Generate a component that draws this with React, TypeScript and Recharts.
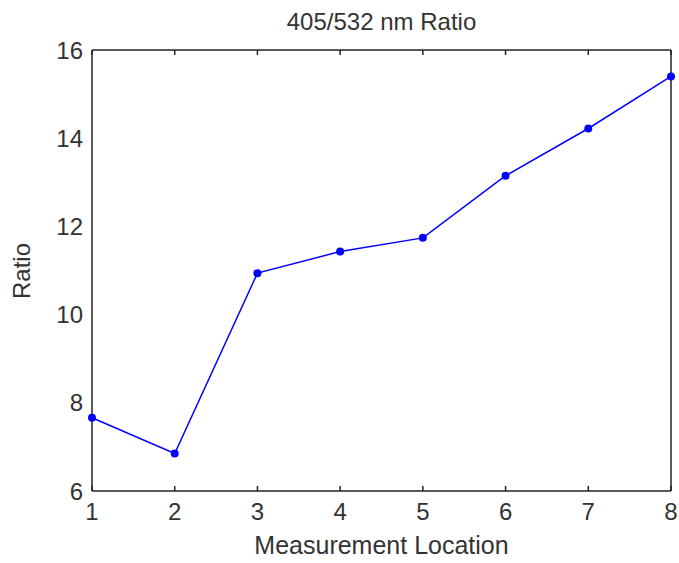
import { Line, LineChart, XAxis, YAxis } from "recharts";

const locations = [1, 2, 3, 4, 5, 6, 7, 8];
const ratios = [7.66, 6.85, 10.94, 11.43, 11.74, 13.15, 14.22, 15.4];
const xTicks = [1, 2, 3, 4, 5, 6, 7, 8];
const yTicks = [6, 8, 10, 12, 14, 16];

const data = locations.map((loc, i) => ({ loc, ratio: ratios[i] }));

const font = "'Liberation Sans', Arial, sans-serif";
const axisColor = "#222";
const textColor = "#333";
const tickStyle = { fontSize: 24, fill: textColor, fontFamily: font };
const blank = () => "";

export default function App() {
  return (
    <div style={{ position: "absolute", left: 0, top: 0, width: 679, height: 563, background: "#fff" }}>
      <LineChart
        width={679}
        height={563}
        data={data}
        margin={{ top: 50, right: 8, bottom: 0, left: 0 }}
      >
        {/* labelled axes (outer) */}
        <XAxis
          xAxisId="bottom"
          dataKey="loc"
          type="number"
          domain={[1, 8]}
          ticks={xTicks}
          height={72}
          tickLine={false}
          tickSize={0}
          tickMargin={12}
          stroke={axisColor}
          strokeWidth={1.5}
          tick={tickStyle}
        />
        <YAxis
          yAxisId="left"
          type="number"
          domain={[6, 16]}
          ticks={yTicks}
          width={92}
          tickLine={false}
          tickSize={0}
          tickMargin={9}
          stroke={axisColor}
          strokeWidth={1.5}
          tick={tickStyle}
        />
        {/* mirrored axes: box outline and inward ticks */}
        <XAxis
          xAxisId="bottomTicks"
          mirror
          dataKey="loc"
          type="number"
          domain={[1, 8]}
          ticks={xTicks}
          height={6}
          tickSize={5}
          tickFormatter={blank}
          axisLine={false}
          stroke={axisColor}
          strokeWidth={1.5}
        />
        <XAxis
          xAxisId="top"
          orientation="top"
          mirror
          dataKey="loc"
          type="number"
          domain={[1, 8]}
          ticks={xTicks}
          height={6}
          tickSize={5}
          tickFormatter={blank}
          stroke={axisColor}
          strokeWidth={1.5}
        />
        <YAxis
          yAxisId="leftTicks"
          mirror
          type="number"
          domain={[6, 16]}
          ticks={yTicks}
          width={6}
          tickSize={5}
          tickFormatter={blank}
          axisLine={false}
          stroke={axisColor}
          strokeWidth={1.5}
        />
        <YAxis
          yAxisId="right"
          orientation="right"
          mirror
          type="number"
          domain={[6, 16]}
          ticks={yTicks}
          width={6}
          tickSize={5}
          tickFormatter={blank}
          stroke={axisColor}
          strokeWidth={1.5}
        />
        <Line
          xAxisId="bottom"
          yAxisId="left"
          type="linear"
          dataKey="ratio"
          stroke="#0000ff"
          strokeWidth={1.5}
          dot={{ r: 4, fill: "#0000ff", stroke: "#0000ff", strokeWidth: 0 }}
          isAnimationActive={false}
        />
      </LineChart>
      <div
        style={{
          position: "absolute",
          left: 92,
          width: 579,
          top: 8,
          textAlign: "center",
          fontFamily: font,
          fontSize: 24,
          color: textColor,
          lineHeight: "28px",
        }}
      >
        405/532 nm Ratio
      </div>
      <div
        style={{
          position: "absolute",
          left: 92,
          width: 579,
          top: 530,
          textAlign: "center",
          fontFamily: font,
          fontSize: 25,
          color: textColor,
          lineHeight: "30px",
        }}
      >
        Measurement Location
      </div>
      <div
        style={{
          position: "absolute",
          left: 22,
          top: 271,
          transform: "translate(-50%, -50%) rotate(-90deg)",
          fontFamily: font,
          fontSize: 24,
          color: textColor,
          lineHeight: "28px",
          whiteSpace: "nowrap",
        }}
      >
        Ratio
      </div>
    </div>
  );
}
